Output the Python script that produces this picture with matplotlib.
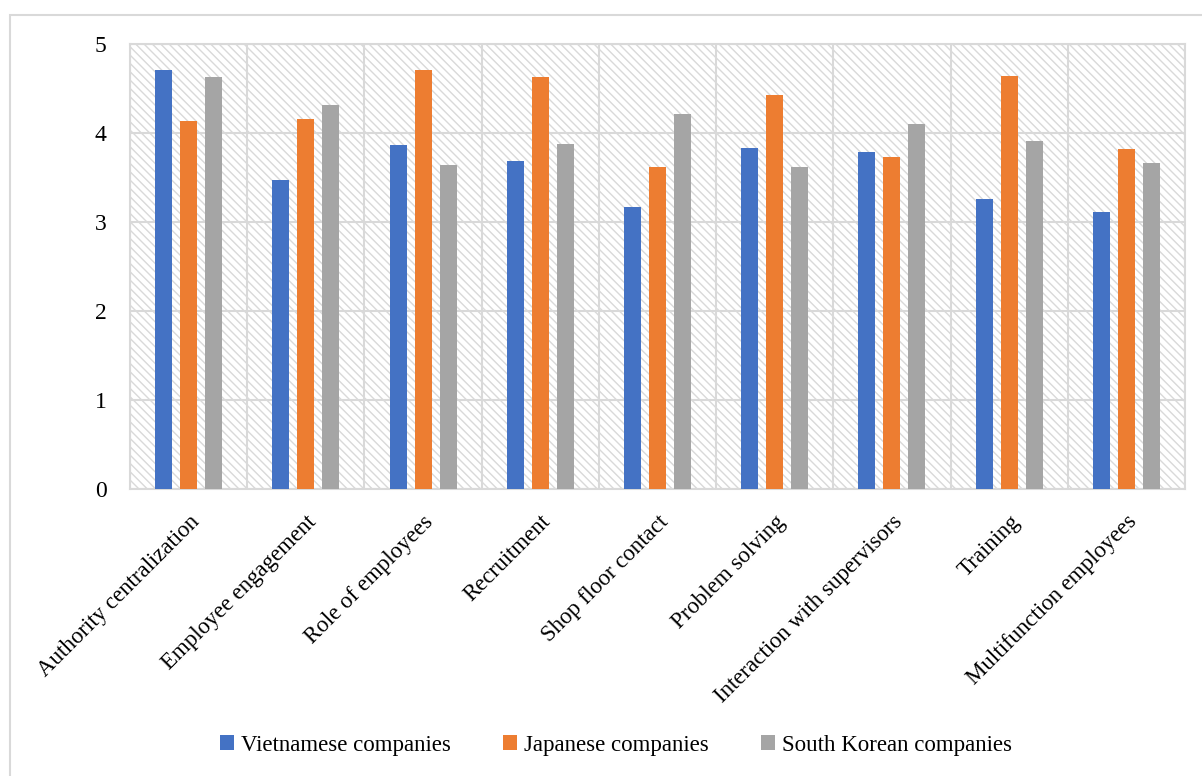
import numpy as np
import matplotlib.pyplot as plt
from matplotlib.patches import Rectangle
from matplotlib.transforms import ScaledTranslation

categories = ["Authority centralization", "Employee engagement", "Role of employees",
              "Recruitment", "Shop floor contact", "Problem solving",
              "Interaction with supervisors", "Training", "Multifunction employees"]
vietnamese = [4.71, 3.47, 3.87, 3.68, 3.17, 3.83, 3.79, 3.26, 3.11]
japanese = [4.13, 4.16, 4.71, 4.63, 3.62, 4.43, 3.73, 4.64, 3.82]
korean = [4.63, 4.31, 3.64, 3.88, 4.21, 3.62, 4.10, 3.91, 3.66]
series = {"Vietnamese companies": vietnamese,
          "Japanese companies": japanese,
          "South Korean companies": korean}
colors = ["#4472C4", "#ED7D31", "#A5A5A5"]
grid_c = "#d9d9d9"

plt.rcParams['font.family'] = ['Liberation Serif', 'DejaVu Serif']
plt.rcParams['hatch.linewidth'] = 1.0

fig = plt.figure(figsize=(12.02, 7.76), dpi=100)
ax = fig.add_axes([130/1202, 1-489/776, (1185-130)/1202, (489-44)/776])

# outer chart border
fig.patches.append(Rectangle((10/1202, -0.1), 1.2, 1.1 - 15/776, transform=fig.transFigure,
                             fill=False, edgecolor=grid_c, linewidth=1.5, zorder=0))

# hatched plot area
ax.set_facecolor("white")
ax.add_patch(Rectangle((0, 0), 1, 1, transform=ax.transAxes, facecolor="white",
                       edgecolor=grid_c, hatch="\\\\\\\\", linewidth=0, zorder=0))

xs = np.arange(len(categories))
bw = 0.145
step = 0.213
for i, (name, vals) in enumerate(series.items()):
    ax.bar(xs + (i - 1) * step, vals, bw, color=colors[i], label=name, zorder=3)

ax.set_xlim(-0.5, len(categories) - 0.5)
ax.set_ylim(0, 5)
ax.set_yticks(range(6))
ax.set_xticks(xs)
ax.set_xticks(np.arange(len(categories) + 1) - 0.5, minor=True)
ax.set_xticklabels(categories, rotation=45, ha="right", rotation_mode="anchor", fontsize=16.5)
shift = ScaledTranslation(-6/100, 0, fig.dpi_scale_trans)
for lab in ax.get_xticklabels():
    lab.set_transform(lab.get_transform() + shift)
ax.tick_params(axis="y", labelsize=17, length=0, pad=17)
ax.tick_params(axis="x", which="both", length=0, pad=16)
ax.grid(axis="y", color=grid_c, linewidth=1.5, zorder=1)
ax.grid(axis="x", which="minor", color=grid_c, linewidth=1.5, zorder=1)
ax.grid(axis="x", which="major", visible=False)
ax.set_axisbelow(True)
for s in ax.spines.values():
    s.set_color(grid_c)
    s.set_linewidth(1.5)

fig.legend(loc="center", bbox_to_anchor=(616/1202, 1-745/776), ncol=3, frameon=False,
           fontsize=16.5, handlelength=0.6, handleheight=0.6, columnspacing=2.3, handletextpad=0.3)

fig.savefig("out.png", dpi=100)
